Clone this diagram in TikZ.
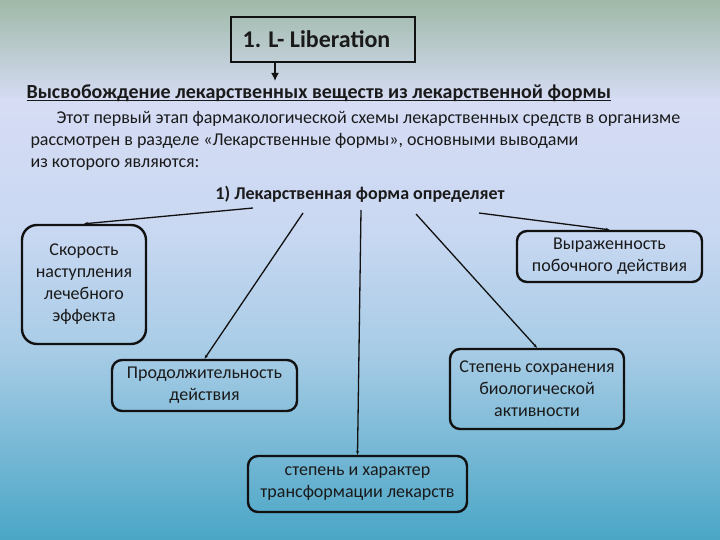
\documentclass[tikz,border=0pt]{standalone}
\usepackage{fontspec}
\setmainfont{Carlito}
\usepackage{tikz}
\usetikzlibrary{arrows.meta}
\definecolor{BgTop}{HTML}{9FB9A8}
\definecolor{BgLight}{HTML}{D6DCF4}
\definecolor{BgMid}{HTML}{C9D8F2}
\definecolor{BgBlue}{HTML}{A8CCE6}
\definecolor{BgBottom}{HTML}{4AA6C6}
\definecolor{InkColor}{HTML}{111111}
\definecolor{TextColor}{HTML}{1A1A1A}
\pgfdeclareverticalshading{slidebg}{100bp}{color(0bp)=(BgBottom); color(25bp)=(BgBottom); color(42.6bp)=(BgBlue); color(53.7bp)=(BgMid); color(65.7bp)=(BgLight); color(75bp)=(BgTop); color(100bp)=(BgTop)}
\newcommand{\ulheading}[1]{\setbox0\hbox{#1}\rlap{\rule[-2.6pt]{\wd0}{1.3pt}}\box0}
\tikzset{
	topicbox/.style={draw=InkColor, line width=2.4pt, rounded corners=10pt, align=center, text=TextColor, inner sep=0pt, font=\fontsize{18}{22}\selectfont},
	branch/.style={-{Stealth[length=4pt,width=3pt]}, line width=1.3pt, draw=InkColor},
}

\begin{document}
\begin{tikzpicture}[x=1pt,y=-1pt]
	\shade[shading=slidebg] (0,0) rectangle (720,540);
	\useasboundingbox (0,0) rectangle (720,540);

	\node[draw=InkColor, line width=2.4pt, minimum width=184pt, minimum height=45pt, text=TextColor, font=\bfseries\fontsize{24}{28}\selectfont] (title) at (323,39.5) {1. L- Liberation\hspace*{13pt}};
	\coordinate (arrtip) at (275,81);
	\draw[-{Latex[length=8pt,width=8pt]}, line width=2.4pt, draw=InkColor] ([xshift=-48pt]title.south) -- (arrtip);

	\node[anchor=west, text=TextColor, font=\bfseries\fontsize{20}{24}\selectfont] (release) at (23,93) {\ulheading{Высвобождение лекарственных веществ из лекарственной формы}};
	\node[anchor=north west, align=left, text=TextColor, font=\fontsize{18}{22}\selectfont] (intro) at (27,108) {\hspace*{26pt}Этот первый этап фармакологической схемы лекарственных средств в организме\\рассмотрен в разделе «Лекарственные формы», основными выводами\\из которого являются:};
	\node[text=TextColor, font=\bfseries\fontsize{18}{22}\selectfont] (determ) at (360,194) {1) Лекарственная форма определяет};

	% five outcomes
	\node[topicbox, rounded corners=15pt, minimum width=124pt, minimum height=119pt] (speed) at (84,284.5) {Скорость\\наступления\\лечебного\\эффекта};
	\node[topicbox, minimum width=185pt, minimum height=51pt] (sideeff) at (609.5,256.5) {Выраженность\\побочного действия};
	\node[topicbox, minimum width=185pt, minimum height=51pt] (duration) at (204.5,385.5) {Продолжительность\\действия};
	\node[topicbox, minimum width=174pt, minimum height=80pt] (bioact) at (537,389) {Степень сохранения\\биологической\\активности};
	\node[topicbox, minimum width=219pt, minimum height=56pt] (transform) at (357.5,484) {степень и характер\\трансформации лекарств};

	\coordinate (s1) at (253,208);
	\coordinate (s2) at (303,213);
	\coordinate (s3) at (361,210);
	\coordinate (s4) at (416,214);
	\coordinate (s5) at (479,213);
	\draw[branch] (s1) -- (speed.north);
	\draw[branch] (s2) -- (duration.north);
	\draw[branch] (s3) -- (transform.north);
	\draw[branch] (s4) -- (bioact.north);
	\draw[branch] (s5) -- (sideeff.north);
\end{tikzpicture}
\end{document}
